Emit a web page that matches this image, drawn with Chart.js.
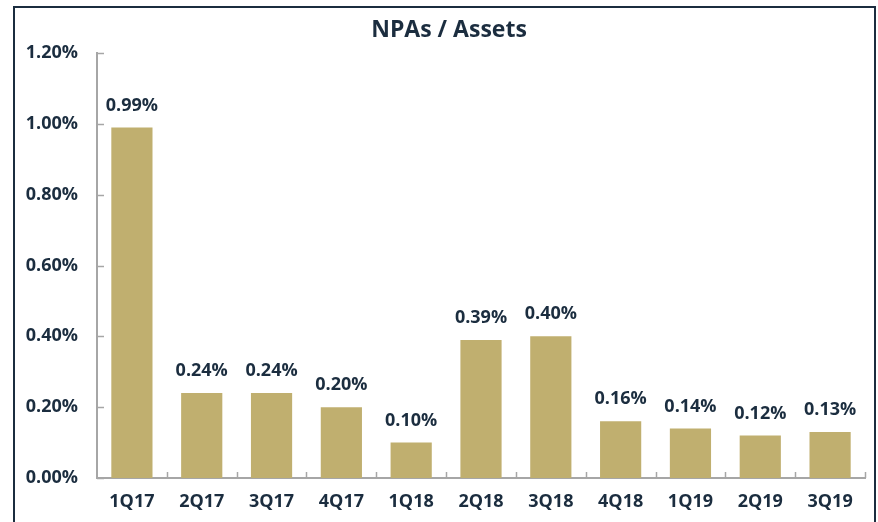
<!DOCTYPE html>
<html>
<head>
<meta charset="utf-8">
<script src="https://cdn.jsdelivr.net/npm/chart.js@4.4.0/dist/chart.umd.min.js"></script>
<style>
  html, body { margin: 0; padding: 0; background: #fff; overflow: hidden; }
  #frame {
    position: absolute; left: 13px; top: 6px; width: 863px; height: 600px;
    border: 2px solid #1b2d3f; box-sizing: border-box;
  }
  #npaChart { position: absolute; left: 0; top: 0; }
</style>
</head>
<body>
<div id="frame"></div>
<canvas id="npaChart" width="878" height="522"></canvas>
<script>
// dados do gráfico
const quarters = ['1Q17', '2Q17', '3Q17', '4Q17', '1Q18', '2Q18', '3Q18', '4Q18', '1Q19', '2Q19', '3Q19'];
const npaValues = [0.99, 0.24, 0.24, 0.20, 0.10, 0.39, 0.40, 0.16, 0.14, 0.12, 0.13];
const yTicks = [0, 0.2, 0.4, 0.6, 0.8, 1.0, 1.2];
const chartTitle = 'NPAs / Assets';

const navy = '#1b2d3f';
const gold = '#c0af6f';
const axisGray = '#a6a6a6';
const fontFamily = "'Open Sans', 'Liberation Sans', sans-serif";

// título centralizado na moldura
const frameTitle = {
    id: 'frameTitle',
    afterDraw(chart) {
        const ctx = chart.ctx;
        ctx.save();
        ctx.font = 'bold 23px ' + fontFamily;
        ctx.fillStyle = navy;
        ctx.textAlign = 'center';
        ctx.textBaseline = 'middle';
        ctx.fillText(chartTitle, 449, 30);
        ctx.restore();
    }
};

// rótulos de valor acima das barras
const valueLabels = {
    id: 'valueLabels',
    afterDatasetsDraw(chart) {
        const ctx = chart.ctx;
        const meta = chart.getDatasetMeta(0);
        ctx.save();
        ctx.font = 'bold 18px ' + fontFamily;
        ctx.fillStyle = navy;
        ctx.textAlign = 'center';
        ctx.textBaseline = 'middle';
        meta.data.forEach((bar, i) => {
            ctx.fillText(npaValues[i].toFixed(2) + '%', bar.x, bar.y - 22);
        });
        ctx.restore();
    }
};

// marcas dos eixos voltadas para dentro
const innerTicks = {
    id: 'innerTicks',
    afterDraw(chart) {
        const { ctx, chartArea, scales } = chart;
        ctx.save();
        ctx.strokeStyle = axisGray;
        ctx.lineWidth = 1.5;
        ctx.beginPath();
        yTicks.forEach(v => {
            const y = Math.round(scales.y.getPixelForValue(v)) + 0.5;
            ctx.moveTo(chartArea.left, y);
            ctx.lineTo(chartArea.left + 7, y);
        });
        for (let i = 1; i <= quarters.length; i++) {
            const x = Math.round(scales.x.getPixelForValue(i - 0.5)) + 0.5;
            ctx.moveTo(x, chartArea.bottom);
            ctx.lineTo(x, chartArea.bottom - 6);
        }
        ctx.stroke();
        ctx.restore();
    }
};

new Chart(document.getElementById('npaChart'), {
    type: 'bar',
    data: {
        labels: quarters,
        datasets: [{
            label: chartTitle,
            data: npaValues,
            backgroundColor: gold,
            borderWidth: 0,
            categoryPercentage: 1.0,
            barPercentage: 0.59
        }]
    },
    options: {
        responsive: false,
        animation: false,
        layout: { padding: { left: 0, right: 13, top: 53, bottom: 0 } },
        plugins: {
            legend: { display: false },
            tooltip: { enabled: false },
            title: { display: false }
        },
        scales: {
            x: {
                grid: { display: false },
                border: { display: true, color: axisGray, width: 2 },
                ticks: {
                    color: navy,
                    padding: 5,
                    font: { size: 18, weight: 'bold', family: fontFamily }
                },
                afterFit(scale) { scale.height = 44; }
            },
            y: {
                min: 0,
                max: 1.2,
                grid: { display: false },
                border: { display: true, color: axisGray, width: 2 },
                afterBuildTicks(scale) { scale.ticks = yTicks.map(v => ({ value: v })); },
                ticks: {
                    color: navy,
                    padding: 11,
                    font: { size: 18, weight: 'bold', family: fontFamily },
                    callback: v => v.toFixed(2) + '%'
                },
                afterFit(scale) { scale.width = 97; }
            }
        }
    },
    plugins: [valueLabels, innerTicks, frameTitle]
});
</script>
</body>
</html>
